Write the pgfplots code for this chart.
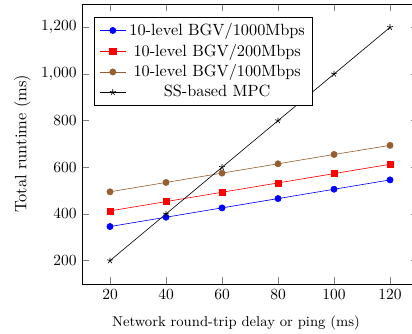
\documentclass[border=0pt]{standalone}
\usepackage{pgfplots}
\pgfplotsset{compat=1.18}
\definecolor{mybrown}{RGB}{150,95,50}
\begin{document}
\begin{tikzpicture}
\begin{axis}[
  scale only axis,
  width=216.8pt, height=180.6pt,
  xmin=10, xmax=130, ymin=100, ymax=1300,
  xtick={20,40,60,80,100,120},
  ytick={200,400,600,800,1000,1200},
  xlabel={Network round-trip delay or ping (ms)},
  xlabel style={font=\fontsize{9.2}{11}\selectfont, at={(axis description cs:0.458,-0.1518)}, anchor=base},
  ylabel={Total runtime (ms)},
  ylabel style={font=\fontsize{10.6}{13}\selectfont},
  legend cell align=center,
  legend style={at={(0.0366,0.9546)}, anchor=north west, font=\fontsize{10.5}{12.6}\selectfont},
]
\addplot[blue, mark=*] coordinates {(20,346) (40,386) (60,426) (80,466) (100,506) (120,546)};
\addlegendentry{10-level BGV/1000Mbps}
\addplot[red, mark=square*] coordinates {(20,413) (40,453) (60,493) (80,533) (100,573) (120,613)};
\addlegendentry{10-level BGV/200Mbps}
\addplot[mybrown, mark=*] coordinates {(20,495) (40,535) (60,575) (80,615) (100,655) (120,694)};
\addlegendentry{10-level BGV/100Mbps}
\addplot[black, mark=star] coordinates {(20,200) (40,400) (60,600) (80,800) (100,1000) (120,1200)};
\addlegendentry{SS-based MPC}
\coordinate (bbl) at (rel axis cs:-0.244,-0.1786);
\coordinate (btr) at (rel axis cs:0.982,1.0143);
\end{axis}
\pgfresetboundingbox
\useasboundingbox (bbl) rectangle (btr);
\end{tikzpicture}
\end{document}
